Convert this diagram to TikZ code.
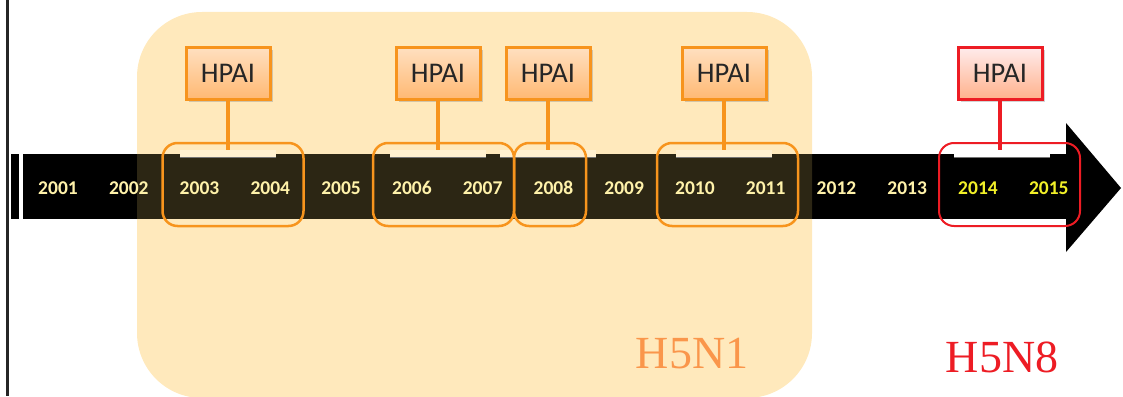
\documentclass[tikz,border=0pt]{standalone}
\usepackage{fontspec}
\setsansfont{Carlito}
\newfontfamily\titlefont{Liberation Serif}
\usetikzlibrary{shadows}
\definecolor{FluOrange}{RGB}{247,148,29}
\definecolor{FluRed}{RGB}{237,28,36}
\definecolor{PaleOrange}{RGB}{255,233,188}
\definecolor{NotchOrange}{RGB}{255,240,208}
\definecolor{BarBrown}{RGB}{44,38,20}
\definecolor{YearYellow}{RGB}{255,242,170}
\definecolor{NewYellow}{RGB}{242,240,40}
\definecolor{TitleOrange}{RGB}{250,150,75}

\begin{document}
\begin{tikzpicture}[
                        x=1pt, y=-1pt,
                        year/.style={font=\sffamily\bfseries\fontsize{19.5}{21}\selectfont, text=YearYellow, inner sep=0pt},
                        hpaibox/.style={draw=FluOrange, line width=3pt, top color=orange!25!white, bottom color=orange!55!white,
                                        minimum width=84pt, minimum height=51pt, inner sep=0pt, text=black!85,
                                        font=\sffamily\fontsize{28.5}{30}\selectfont,
                                        drop shadow={shadow xshift=2.5pt, shadow yshift=-2.5pt, opacity=0.35}},
                        spanbox/.style={draw=FluOrange, line width=2.5pt, rounded corners=15pt, minimum height=83pt, inner sep=0pt},
                        callout/.style={line width=3.5pt, FluOrange},
                        notch/.style={line width=1.2pt, black!55},
                        strain/.style={font=\titlefont\fontsize{46}{48}\selectfont}
                    ]
                        \useasboundingbox (0,0) rectangle (1123,396);
                        \fill[PaleOrange, rounded corners=65pt] (137,12) rectangle (812,398);
                        \fill[black!85] (6,0) rectangle (9,396);
                        \fill[black] (11,154) rectangle (19,219);
                        \fill[black] (23,154) rectangle (1068,219);
                        \fill[black] (1066,123) -- (1121,188) -- (1066,252) -- cycle;
                        \begin{scope}
                            \clip[rounded corners=65pt] (137,12) rectangle (812,398);
                            \fill[BarBrown] (23,154) rectangle (1068,219);
                        \end{scope}
                        \foreach \a in {180,390,500,676} {
                            \fill[NotchOrange] (\a,150) rectangle (\a+96,157);
                            \draw[notch] (\a,157.5) -- (\a+96,157.5);
                        }
                        \fill[white] (954,150) rectangle (1050,157);
                        \draw[notch] (954,157.5) -- (1050,157.5);
                        \node[year] (y2001) at (58,188) {2001};
                        \node[year] (y2002) at (128.8,188) {2002};
                        \node[year] (y2003) at (199.5,188) {2003};
                        \node[year] (y2004) at (270.3,188) {2004};
                        \node[year] (y2005) at (341.1,188) {2005};
                        \node[year] (y2006) at (411.9,188) {2006};
                        \node[year] (y2007) at (482.6,188) {2007};
                        \node[year] (y2008) at (553.4,188) {2008};
                        \node[year] (y2009) at (624.2,188) {2009};
                        \node[year] (y2010) at (694.9,188) {2010};
                        \node[year] (y2011) at (765.7,188) {2011};
                        \node[year] (y2012) at (836.5,188) {2012};
                        \node[year] (y2013) at (907.2,188) {2013};
                        \node[year, text=NewYellow] (y2014) at (978,188) {2014};
                        \node[year, text=NewYellow] (y2015) at (1048.8,188) {2015};
                        \node[spanbox, minimum width=141pt] (spanA) at (233,184.5) {};
                        \node[spanbox, minimum width=141pt] (spanB) at (443.5,184.5) {};
                        \node[spanbox, minimum width=72pt] (spanC) at (550,184.5) {};
                        \node[spanbox, minimum width=141pt] (spanD) at (727.5,184.5) {};
                        \node[spanbox, minimum width=141pt, draw=FluRed, line width=2pt] (spanE) at (1009.5,184.5) {};
                        \node[hpaibox] (hpaiA) at (228,73.5) {HPAI};
                        \node[hpaibox] (hpaiB) at (438,73.5) {HPAI};
                        \node[hpaibox] (hpaiC) at (548,73.5) {HPAI};
                        \node[hpaibox] (hpaiD) at (724,73.5) {HPAI};
                        \node[hpaibox, draw=FluRed, top color=red!8!white, bottom color=red!35!orange!45!white] (hpaiE) at (1000,73.5) {HPAI};
                        \coordinate (tipA) at (228,150);
                        \coordinate (tipB) at (438,150);
                        \coordinate (tipC) at (548,150);
                        \coordinate (tipD) at (724,150);
                        \coordinate (tipE) at (1000,150);
                        \draw[callout] (hpaiA) -- (tipA);
                        \draw[callout] (hpaiB) -- (tipB);
                        \draw[callout] (hpaiC) -- (tipC);
                        \draw[callout] (hpaiD) -- (tipD);
                        \draw[callout, FluRed] (hpaiE) -- (tipE);
                        \node[strain, text=TitleOrange] (h5n1) at (692,354) {H5N1};
                        \node[strain, text=FluRed] (h5n8) at (1002,357) {H5N8};
                    \end{tikzpicture}
\end{document}
